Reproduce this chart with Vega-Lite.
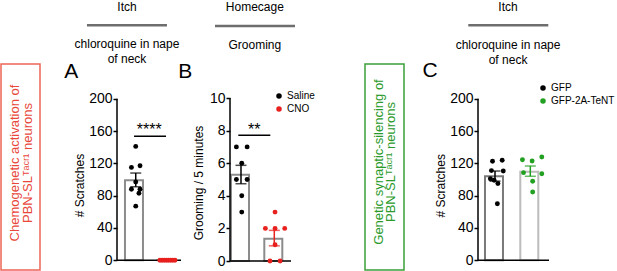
{
  "$schema": "https://vega.github.io/schema/vega-lite/v6.json",
  "padding": 0,
  "spacing": 0,
  "bounds": "flush",
  "config": {
    "font": "Liberation Sans",
    "view": {"stroke": null},
    "axis": {"domain": false, "grid": false, "tickColor": "black", "tickWidth": 1.5, "tickSize": 4, "labelFontSize": 14, "labelColor": "black", "labelPadding": 1, "titleFontSize": 12, "titleFontWeight": "normal", "titleColor": "black", "titlePadding": 2},
    "legend": {"labelFontSize": 10, "labelColor": "black", "symbolSize": 30, "padding": 0, "rowPadding": 3, "labelOffset": 3, "symbolStrokeWidth": 0},
    "text": {"color": "black"}
  },
  "datasets": {
    "Adots": [
      {"group": "Saline", "value": 141, "jx": 0},
      {"group": "Saline", "value": 117, "jx": 0.4},
      {"group": "Saline", "value": 115, "jx": -0.4},
      {"group": "Saline", "value": 97, "jx": 0},
      {"group": "Saline", "value": 88, "jx": -0.4},
      {"group": "Saline", "value": 88, "jx": 0.4},
      {"group": "Saline", "value": 83, "jx": 0.3},
      {"group": "Saline", "value": 67, "jx": 0},
      {"group": "CNO", "value": 0, "jx": -0.7},
      {"group": "CNO", "value": 0, "jx": -0.5},
      {"group": "CNO", "value": 0, "jx": -0.3},
      {"group": "CNO", "value": 0, "jx": -0.1},
      {"group": "CNO", "value": 0, "jx": 0.1},
      {"group": "CNO", "value": 0, "jx": 0.3},
      {"group": "CNO", "value": 0, "jx": 0.5},
      {"group": "CNO", "value": 0, "jx": 0.7}
    ],
    "Asum": [
      {"group": "Saline", "mean": 99, "lo": 91, "hi": 108},
      {"group": "CNO", "mean": 0, "lo": 0, "hi": 0}
    ],
    "Bdots": [
      {"group": "Saline", "value": 7, "jx": -0.5},
      {"group": "Saline", "value": 7, "jx": 0.5},
      {"group": "Saline", "value": 6, "jx": 0},
      {"group": "Saline", "value": 5, "jx": -0.5},
      {"group": "Saline", "value": 5, "jx": 0.5},
      {"group": "Saline", "value": 4, "jx": 0},
      {"group": "Saline", "value": 3, "jx": 0},
      {"group": "CNO", "value": 3, "jx": 0},
      {"group": "CNO", "value": 2, "jx": -0.9},
      {"group": "CNO", "value": 2, "jx": 0},
      {"group": "CNO", "value": 2, "jx": 0.9},
      {"group": "CNO", "value": 1, "jx": 0},
      {"group": "CNO", "value": 0, "jx": -0.47},
      {"group": "CNO", "value": 0, "jx": 0.47}
    ],
    "Bsum": [
      {"group": "Saline", "mean": 5.29, "lo": 4.74, "hi": 5.87},
      {"group": "CNO", "mean": 1.37, "lo": 0.93, "hi": 1.88}
    ],
    "Cdots": [
      {"group": "GFP", "value": 122.5, "jx": -0.3},
      {"group": "GFP", "value": 123.8, "jx": 0.6},
      {"group": "GFP", "value": 111, "jx": -0.4},
      {"group": "GFP", "value": 110.5, "jx": 0.7},
      {"group": "GFP", "value": 101, "jx": -0.5},
      {"group": "GFP", "value": 99, "jx": -0.15},
      {"group": "GFP", "value": 95, "jx": 0.2},
      {"group": "GFP", "value": 70, "jx": 0.15},
      {"group": "GFP-2A-TeNT", "value": 124.5, "jx": -0.8},
      {"group": "GFP-2A-TeNT", "value": 127.8, "jx": 1.0},
      {"group": "GFP-2A-TeNT", "value": 122.9, "jx": 0.1},
      {"group": "GFP-2A-TeNT", "value": 108.5, "jx": -0.7},
      {"group": "GFP-2A-TeNT", "value": 107.2, "jx": 1.0},
      {"group": "GFP-2A-TeNT", "value": 97.8, "jx": 0.15},
      {"group": "GFP-2A-TeNT", "value": 84.5, "jx": 0.15}
    ],
    "Csum": [
      {"group": "GFP", "mean": 104, "lo": 98, "hi": 110.5},
      {"group": "GFP-2A-TeNT", "mean": 109.5, "lo": 104, "hi": 116.7}
    ]
  },
  "hconcat": [
    {
      "width": 39, "height": 206,
      "view": {"stroke": "#ee6655", "strokeWidth": 1.5},
      "data": {"values": [{"label": "box"}]},
      "mark": {"type": "text", "angle": 270, "align": "center", "baseline": "middle", "fontSize": 13, "lineHeight": 12.5, "color": "#e8473a", "dx": 4, "dy": -5.5, "text": ["Chemogenetic activation of", "PBN-SLᵀᵃᶜʳ¹ neurons"]}
    },
    {"width": 77, "height": 206, "data": {"values": []}, "mark": "point"},
    {
      "width": 64, "height": 206,
      "layer": [
        {
          "data": {"name": "Asum"},
          "mark": {"type": "bar", "fill": "white", "stroke": "#8c8c8c", "strokeWidth": 2},
          "encoding": {
            "x": {"field": "group", "type": "nominal", "sort": ["Saline", "CNO"], "scale": {"domain": ["Saline", "CNO"], "paddingInner": 0.322, "paddingOuter": 0.17, "align": 0.74}, "axis": null},
            "y": {"field": "mean", "type": "quantitative", "scale": {"domain": [-12.0, 242.95], "nice": false, "zero": false}, "axis": {"values": [0, 40, 80, 120, 160, 200], "title": "# Scratches", "titleY": 121}},
            "y2": {"datum": 0}
          }
        },
        {
          "data": {"values": [{"label": "annotation"}]},
          "layer": [
            {"mark": {"type": "rule", "strokeWidth": 1.5, "color": "black"}, "encoding": {"x": {"datum": 0, "type": "quantitative", "scale": {"domain": [0, 1], "nice": false, "zero": false}, "axis": null}, "y": {"datum": 0, "type": "quantitative", "scale": {"domain": [-12.0, 242.95], "nice": false, "zero": false}}, "y2": {"datum": 200}}},
            {"mark": {"type": "rule", "strokeWidth": 1.5, "color": "black"}, "encoding": {"x": {"datum": 0, "type": "quantitative", "scale": {"domain": [0, 1], "nice": false, "zero": false}, "axis": null}, "x2": {"datum": 1}, "y": {"datum": 0, "type": "quantitative", "scale": {"domain": [-12.0, 242.95], "nice": false, "zero": false}}}},
            {"mark": {"type": "rule", "strokeWidth": 2.5, "color": "#6e6e6e"}, "encoding": {"x": {"datum": -0.469, "type": "quantitative", "scale": {"domain": [0, 1], "nice": false, "zero": false}, "axis": null}, "x2": {"datum": 0.781}, "y": {"datum": 290.8, "type": "quantitative", "scale": {"domain": [-12.0, 242.95], "nice": false, "zero": false}}}},
            {"mark": {"type": "text", "fontSize": 12, "align": "center", "baseline": "alphabetic", "text": "Itch"}, "encoding": {"x": {"datum": 0.156, "type": "quantitative", "scale": {"domain": [0, 1], "nice": false, "zero": false}, "axis": null}, "y": {"datum": 308.5, "type": "quantitative", "scale": {"domain": [-12.0, 242.95], "nice": false, "zero": false}}}},
            {"mark": {"type": "text", "fontSize": 12, "align": "center", "baseline": "alphabetic", "text": "chloroquine in nape"}, "encoding": {"x": {"datum": 0.156, "type": "quantitative", "scale": {"domain": [0, 1], "nice": false, "zero": false}, "axis": null}, "y": {"datum": 262.4, "type": "quantitative", "scale": {"domain": [-12.0, 242.95], "nice": false, "zero": false}}}},
            {"mark": {"type": "text", "fontSize": 12, "align": "center", "baseline": "alphabetic", "text": "of neck"}, "encoding": {"x": {"datum": 0.156, "type": "quantitative", "scale": {"domain": [0, 1], "nice": false, "zero": false}, "axis": null}, "y": {"datum": 244.2, "type": "quantitative", "scale": {"domain": [-12.0, 242.95], "nice": false, "zero": false}}}},
            {"mark": {"type": "text", "fontSize": 21, "align": "center", "baseline": "alphabetic", "text": "A"}, "encoding": {"x": {"datum": -0.714, "type": "quantitative", "scale": {"domain": [0, 1], "nice": false, "zero": false}, "axis": null}, "y": {"datum": 225.1, "type": "quantitative", "scale": {"domain": [-12.0, 242.95], "nice": false, "zero": false}}}},
            {"mark": {"type": "rule", "strokeWidth": 1.5, "color": "black"}, "encoding": {"x": {"datum": 0.266, "type": "quantitative", "scale": {"domain": [0, 1], "nice": false, "zero": false}, "axis": null}, "x2": {"datum": 0.766}, "y": {"datum": 153.5, "type": "quantitative", "scale": {"domain": [-12.0, 242.95], "nice": false, "zero": false}}}},
            {"mark": {"type": "text", "fontSize": 16, "align": "center", "baseline": "alphabetic", "text": "****"}, "encoding": {"x": {"datum": 0.503, "type": "quantitative", "scale": {"domain": [0, 1], "nice": false, "zero": false}, "axis": null}, "y": {"datum": 155.1, "type": "quantitative", "scale": {"domain": [-12.0, 242.95], "nice": false, "zero": false}}}}
          ]
        },
        {
          "layer": [
            {
              "data": {"name": "Adots"},
              "mark": {"type": "point", "filled": true, "size": 24, "opacity": 1},
              "encoding": {
                "x": {"field": "group", "type": "nominal", "sort": ["Saline", "CNO"], "scale": {"domain": ["Saline", "CNO"], "paddingInner": 0.322, "paddingOuter": 0.17, "align": 0.74}, "axis": null},
                "xOffset": {"field": "jx", "type": "quantitative", "scale": {"domain": [-1, 1]}},
                "y": {"field": "value", "type": "quantitative", "scale": {"domain": [-12.0, 242.95], "nice": false, "zero": false}},
                "color": {"field": "group", "type": "nominal", "scale": {"domain": ["Saline", "CNO"], "range": ["#000000", "#e8201e"]}, "legend": null}
              }
            },
            {
              "data": {"name": "Asum"},
              "mark": {"type": "rule", "strokeWidth": 1.5},
              "encoding": {
                "x": {"field": "group", "type": "nominal", "sort": ["Saline", "CNO"], "scale": {"domain": ["Saline", "CNO"], "paddingInner": 0.322, "paddingOuter": 0.17, "align": 0.74}, "axis": null},
                "y": {"field": "lo", "type": "quantitative", "scale": {"domain": [-12.0, 242.95], "nice": false, "zero": false}},
                "y2": {"field": "hi"},
                "color": {"field": "group", "type": "nominal", "scale": {"domain": ["Saline", "CNO"], "range": ["#000000", "#e8201e"]}, "legend": null}
              }
            },
            {
              "data": {"name": "Asum"},
              "mark": {"type": "tick", "size": 11, "thickness": 1.5},
              "encoding": {
                "x": {"field": "group", "type": "nominal", "sort": ["Saline", "CNO"], "scale": {"domain": ["Saline", "CNO"], "paddingInner": 0.322, "paddingOuter": 0.17, "align": 0.74}, "axis": null},
                "y": {"field": "hi", "type": "quantitative", "scale": {"domain": [-12.0, 242.95], "nice": false, "zero": false}},
                "color": {"field": "group", "type": "nominal", "scale": {"domain": ["Saline", "CNO"], "range": ["#000000", "#e8201e"]}, "legend": null}
              }
            },
            {
              "data": {"name": "Asum"},
              "mark": {"type": "tick", "size": 11, "thickness": 1.5},
              "encoding": {
                "x": {"field": "group", "type": "nominal", "sort": ["Saline", "CNO"], "scale": {"domain": ["Saline", "CNO"], "paddingInner": 0.322, "paddingOuter": 0.17, "align": 0.74}, "axis": null},
                "y": {"field": "lo", "type": "quantitative", "scale": {"domain": [-12.0, 242.95], "nice": false, "zero": false}},
                "color": {"field": "group", "type": "nominal", "scale": {"domain": ["Saline", "CNO"], "range": ["#000000", "#e8201e"]}, "legend": null}
              }
            }
          ]
        }
      ],
      "resolve": {"scale": {"x": "independent"}}
    },
    {"width": 49, "height": 206, "data": {"values": []}, "mark": "point"},
    {
      "width": 61, "height": 206,
      "layer": [
        {
          "data": {"name": "Bsum"},
          "mark": {"type": "bar", "fill": "white", "stroke": "#8c8c8c", "strokeWidth": 2},
          "encoding": {
            "x": {"field": "group", "type": "nominal", "sort": ["Saline", "CNO"], "scale": {"domain": ["Saline", "CNO"], "paddingInner": 0.4, "paddingOuter": 0.116, "align": 0.13}, "axis": null},
            "y": {"field": "mean", "type": "quantitative", "scale": {"domain": [-0.552, 12.086], "nice": false, "zero": false}, "axis": {"values": [0, 2, 4, 6, 8, 10], "title": "Grooming / 5 minutes", "titleY": 118.5, "titlePadding": 4}},
            "y2": {"datum": 0}
          }
        },
        {
          "data": {"values": [{"label": "annotation"}]},
          "layer": [
            {"mark": {"type": "rule", "strokeWidth": 1.5, "color": "black"}, "encoding": {"x": {"datum": 0, "type": "quantitative", "scale": {"domain": [0, 1], "nice": false, "zero": false}, "axis": null}, "y": {"datum": 0, "type": "quantitative", "scale": {"domain": [-0.552, 12.086], "nice": false, "zero": false}}, "y2": {"datum": 10}}},
            {"mark": {"type": "rule", "strokeWidth": 1.5, "color": "black"}, "encoding": {"x": {"datum": 0, "type": "quantitative", "scale": {"domain": [0, 1], "nice": false, "zero": false}, "axis": null}, "x2": {"datum": 1}, "y": {"datum": 0, "type": "quantitative", "scale": {"domain": [-0.552, 12.086], "nice": false, "zero": false}}}},
            {"mark": {"type": "rule", "strokeWidth": 2.5, "color": "#6e6e6e"}, "encoding": {"x": {"datum": -0.246, "type": "quantitative", "scale": {"domain": [0, 1], "nice": false, "zero": false}, "axis": null}, "x2": {"datum": 1.066}, "y": {"datum": 14.42, "type": "quantitative", "scale": {"domain": [-0.552, 12.086], "nice": false, "zero": false}}}},
            {"mark": {"type": "text", "fontSize": 12, "align": "center", "baseline": "alphabetic", "text": "Homecage"}, "encoding": {"x": {"datum": 0.407, "type": "quantitative", "scale": {"domain": [0, 1], "nice": false, "zero": false}, "axis": null}, "y": {"datum": 15.34, "type": "quantitative", "scale": {"domain": [-0.552, 12.086], "nice": false, "zero": false}}}},
            {"mark": {"type": "text", "fontSize": 12, "align": "center", "baseline": "alphabetic", "text": "Grooming"}, "encoding": {"x": {"datum": 0.407, "type": "quantitative", "scale": {"domain": [0, 1], "nice": false, "zero": false}, "axis": null}, "y": {"datum": 13.02, "type": "quantitative", "scale": {"domain": [-0.552, 12.086], "nice": false, "zero": false}}}},
            {"mark": {"type": "text", "fontSize": 21, "align": "center", "baseline": "alphabetic", "text": "B"}, "encoding": {"x": {"datum": -0.734, "type": "quantitative", "scale": {"domain": [0, 1], "nice": false, "zero": false}, "axis": null}, "y": {"datum": 11.23, "type": "quantitative", "scale": {"domain": [-0.552, 12.086], "nice": false, "zero": false}}}},
            {"mark": {"type": "rule", "strokeWidth": 1.5, "color": "black"}, "encoding": {"x": {"datum": 0.136, "type": "quantitative", "scale": {"domain": [0, 1], "nice": false, "zero": false}, "axis": null}, "x2": {"datum": 0.661}, "y": {"datum": 7.71, "type": "quantitative", "scale": {"domain": [-0.552, 12.086], "nice": false, "zero": false}}}},
            {"mark": {"type": "text", "fontSize": 16, "align": "center", "baseline": "alphabetic", "text": "**"}, "encoding": {"x": {"datum": 0.398, "type": "quantitative", "scale": {"domain": [0, 1], "nice": false, "zero": false}, "axis": null}, "y": {"datum": 7.73, "type": "quantitative", "scale": {"domain": [-0.552, 12.086], "nice": false, "zero": false}}}}
          ]
        },
        {
          "layer": [
            {
              "data": {"name": "Bdots"},
              "mark": {"type": "point", "filled": true, "size": 24, "opacity": 1},
              "encoding": {
                "x": {"field": "group", "type": "nominal", "sort": ["Saline", "CNO"], "scale": {"domain": ["Saline", "CNO"], "paddingInner": 0.4, "paddingOuter": 0.116, "align": 0.13}, "axis": null},
                "xOffset": {"field": "jx", "type": "quantitative", "scale": {"domain": [-1, 1]}},
                "y": {"field": "value", "type": "quantitative", "scale": {"domain": [-0.552, 12.086], "nice": false, "zero": false}},
                "color": {"field": "group", "type": "nominal", "sort": ["Saline", "CNO"], "scale": {"domain": ["Saline", "CNO"], "range": ["#000000", "#e8201e"]}, "legend": {"title": null, "orient": "none", "legendX": 44, "legendY": 27, "symbolType": "circle"}}
              }
            },
            {
              "data": {"name": "Bsum"},
              "mark": {"type": "rule", "strokeWidth": 1.5},
              "encoding": {
                "x": {"field": "group", "type": "nominal", "sort": ["Saline", "CNO"], "scale": {"domain": ["Saline", "CNO"], "paddingInner": 0.4, "paddingOuter": 0.116, "align": 0.13}, "axis": null},
                "y": {"field": "lo", "type": "quantitative", "scale": {"domain": [-0.552, 12.086], "nice": false, "zero": false}},
                "y2": {"field": "hi"},
                "color": {"field": "group", "type": "nominal", "scale": {"domain": ["Saline", "CNO"], "range": ["#000000", "#e8201e"]}, "legend": null}
              }
            },
            {
              "data": {"name": "Bsum"},
              "mark": {"type": "tick", "size": 11, "thickness": 1.5},
              "encoding": {
                "x": {"field": "group", "type": "nominal", "sort": ["Saline", "CNO"], "scale": {"domain": ["Saline", "CNO"], "paddingInner": 0.4, "paddingOuter": 0.116, "align": 0.13}, "axis": null},
                "y": {"field": "hi", "type": "quantitative", "scale": {"domain": [-0.552, 12.086], "nice": false, "zero": false}},
                "color": {"field": "group", "type": "nominal", "scale": {"domain": ["Saline", "CNO"], "range": ["#000000", "#e8201e"]}, "legend": null}
              }
            },
            {
              "data": {"name": "Bsum"},
              "mark": {"type": "tick", "size": 11, "thickness": 1.5},
              "encoding": {
                "x": {"field": "group", "type": "nominal", "sort": ["Saline", "CNO"], "scale": {"domain": ["Saline", "CNO"], "paddingInner": 0.4, "paddingOuter": 0.116, "align": 0.13}, "axis": null},
                "y": {"field": "lo", "type": "quantitative", "scale": {"domain": [-0.552, 12.086], "nice": false, "zero": false}},
                "color": {"field": "group", "type": "nominal", "scale": {"domain": ["Saline", "CNO"], "range": ["#000000", "#e8201e"]}, "legend": null}
              }
            }
          ]
        }
      ],
      "resolve": {"scale": {"x": "independent"}}
    },
    {"width": 74, "height": 206, "data": {"values": []}, "mark": "point"},
    {
      "width": 39, "height": 206,
      "view": {"stroke": "#3aa03a", "strokeWidth": 1.5},
      "data": {"values": [{"label": "box"}]},
      "mark": {"type": "text", "angle": 270, "align": "center", "baseline": "middle", "fontSize": 13, "lineHeight": 12.5, "color": "#2a9a2a", "dx": 5, "dy": -6, "text": ["Genetic synaptic-silencing of", "PBN-SLᵀᵃᶜʳ¹ neurons"]}
    },
    {"width": 74, "height": 206, "data": {"values": []}, "mark": "point"},
    {
      "width": 71, "height": 206,
      "layer": [
        {
          "data": {"name": "Csum"},
          "mark": {"type": "bar", "fill": "white", "strokeWidth": 2},
          "encoding": {
            "x": {"field": "group", "type": "nominal", "sort": ["GFP", "GFP-2A-TeNT"], "scale": {"domain": ["GFP", "GFP-2A-TeNT"], "paddingInner": 0.433, "paddingOuter": 0.222, "align": 0.446}, "axis": null},
            "y": {"field": "mean", "type": "quantitative", "scale": {"domain": [-12.0, 242.95], "nice": false, "zero": false}, "axis": {"values": [0, 40, 80, 120, 160, 200], "title": "# Scratches", "titleY": 121.3}},
            "y2": {"datum": 0},
            "stroke": {"condition": {"test": "datum.group === 'GFP'", "value": "#7a7a7a"}, "value": "#bcbcbc"}
          }
        },
        {
          "data": {"values": [{"label": "annotation"}]},
          "layer": [
            {"mark": {"type": "rule", "strokeWidth": 1.5, "color": "black"}, "encoding": {"x": {"datum": 0, "type": "quantitative", "scale": {"domain": [0, 1], "nice": false, "zero": false}, "axis": null}, "y": {"datum": 0, "type": "quantitative", "scale": {"domain": [-12.0, 242.95], "nice": false, "zero": false}}, "y2": {"datum": 200}}},
            {"mark": {"type": "rule", "strokeWidth": 1.5, "color": "black"}, "encoding": {"x": {"datum": 0, "type": "quantitative", "scale": {"domain": [0, 1], "nice": false, "zero": false}, "axis": null}, "x2": {"datum": 1}, "y": {"datum": 0, "type": "quantitative", "scale": {"domain": [-12.0, 242.95], "nice": false, "zero": false}}}},
            {"mark": {"type": "rule", "strokeWidth": 2.5, "color": "#6e6e6e"}, "encoding": {"x": {"datum": -0.137, "type": "quantitative", "scale": {"domain": [0, 1], "nice": false, "zero": false}, "axis": null}, "x2": {"datum": 0.99}, "y": {"datum": 290.8, "type": "quantitative", "scale": {"domain": [-12.0, 242.95], "nice": false, "zero": false}}}},
            {"mark": {"type": "text", "fontSize": 12, "align": "center", "baseline": "alphabetic", "text": "Itch"}, "encoding": {"x": {"datum": 0.423, "type": "quantitative", "scale": {"domain": [0, 1], "nice": false, "zero": false}, "axis": null}, "y": {"datum": 308.5, "type": "quantitative", "scale": {"domain": [-12.0, 242.95], "nice": false, "zero": false}}}},
            {"mark": {"type": "text", "fontSize": 12, "align": "center", "baseline": "alphabetic", "text": "chloroquine in nape"}, "encoding": {"x": {"datum": 0.423, "type": "quantitative", "scale": {"domain": [0, 1], "nice": false, "zero": false}, "axis": null}, "y": {"datum": 261.9, "type": "quantitative", "scale": {"domain": [-12.0, 242.95], "nice": false, "zero": false}}}},
            {"mark": {"type": "text", "fontSize": 12, "align": "center", "baseline": "alphabetic", "text": "of neck"}, "encoding": {"x": {"datum": 0.423, "type": "quantitative", "scale": {"domain": [0, 1], "nice": false, "zero": false}, "axis": null}, "y": {"datum": 243.3, "type": "quantitative", "scale": {"domain": [-12.0, 242.95], "nice": false, "zero": false}}}},
            {"mark": {"type": "text", "fontSize": 21, "align": "center", "baseline": "alphabetic", "text": "C"}, "encoding": {"x": {"datum": -0.676, "type": "quantitative", "scale": {"domain": [0, 1], "nice": false, "zero": false}, "axis": null}, "y": {"datum": 226.9, "type": "quantitative", "scale": {"domain": [-12.0, 242.95], "nice": false, "zero": false}}}}
          ]
        },
        {
          "layer": [
            {
              "data": {"name": "Cdots"},
              "mark": {"type": "point", "filled": true, "size": 24, "opacity": 1},
              "encoding": {
                "x": {"field": "group", "type": "nominal", "sort": ["GFP", "GFP-2A-TeNT"], "scale": {"domain": ["GFP", "GFP-2A-TeNT"], "paddingInner": 0.433, "paddingOuter": 0.222, "align": 0.446}, "axis": null},
                "xOffset": {"field": "jx", "type": "quantitative", "scale": {"domain": [-1, 1]}},
                "y": {"field": "value", "type": "quantitative", "scale": {"domain": [-12.0, 242.95], "nice": false, "zero": false}},
                "color": {"field": "group", "type": "nominal", "sort": ["GFP", "GFP-2A-TeNT"], "scale": {"domain": ["GFP", "GFP-2A-TeNT"], "range": ["#000000", "#22a022"]}, "legend": {"title": null, "orient": "none", "legendX": 60, "legendY": 19, "symbolType": "circle"}}
              }
            },
            {
              "data": {"name": "Csum"},
              "mark": {"type": "rule", "strokeWidth": 1.5},
              "encoding": {
                "x": {"field": "group", "type": "nominal", "sort": ["GFP", "GFP-2A-TeNT"], "scale": {"domain": ["GFP", "GFP-2A-TeNT"], "paddingInner": 0.433, "paddingOuter": 0.222, "align": 0.446}, "axis": null},
                "y": {"field": "lo", "type": "quantitative", "scale": {"domain": [-12.0, 242.95], "nice": false, "zero": false}},
                "y2": {"field": "hi"},
                "color": {"field": "group", "type": "nominal", "scale": {"domain": ["GFP", "GFP-2A-TeNT"], "range": ["#000000", "#22a022"]}, "legend": null}
              }
            },
            {
              "data": {"name": "Csum"},
              "mark": {"type": "tick", "size": 11, "thickness": 1.5},
              "encoding": {
                "x": {"field": "group", "type": "nominal", "sort": ["GFP", "GFP-2A-TeNT"], "scale": {"domain": ["GFP", "GFP-2A-TeNT"], "paddingInner": 0.433, "paddingOuter": 0.222, "align": 0.446}, "axis": null},
                "y": {"field": "hi", "type": "quantitative", "scale": {"domain": [-12.0, 242.95], "nice": false, "zero": false}},
                "color": {"field": "group", "type": "nominal", "scale": {"domain": ["GFP", "GFP-2A-TeNT"], "range": ["#000000", "#22a022"]}, "legend": null}
              }
            },
            {
              "data": {"name": "Csum"},
              "mark": {"type": "tick", "size": 11, "thickness": 1.5},
              "encoding": {
                "x": {"field": "group", "type": "nominal", "sort": ["GFP", "GFP-2A-TeNT"], "scale": {"domain": ["GFP", "GFP-2A-TeNT"], "paddingInner": 0.433, "paddingOuter": 0.222, "align": 0.446}, "axis": null},
                "y": {"field": "lo", "type": "quantitative", "scale": {"domain": [-12.0, 242.95], "nice": false, "zero": false}},
                "color": {"field": "group", "type": "nominal", "scale": {"domain": ["GFP", "GFP-2A-TeNT"], "range": ["#000000", "#22a022"]}, "legend": null}
              }
            }
          ]
        }
      ],
      "resolve": {"scale": {"x": "independent"}}
    }
  ],
  "resolve": {"scale": {"x": "independent", "y": "independent", "color": "independent"}, "legend": {"color": "independent"}}
}
